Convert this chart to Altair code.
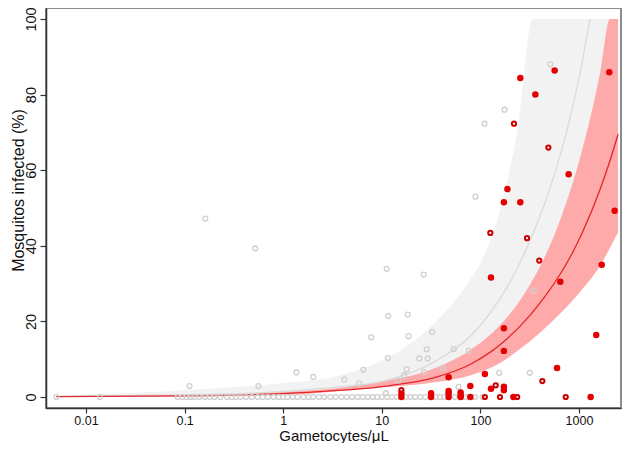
import altair as alt
import pandas as pd

# ---------------- data ----------------
# grey open circles lying on 0 %
gray_zero_x = [0.005, 0.0138, 0.085, 0.095, 0.105, 0.115, 0.125, 0.14, 0.16, 0.18, 0.2, 0.23,
               0.27, 0.3, 0.33, 0.37, 0.42, 0.48, 0.55, 0.62, 0.7, 0.8, 0.9, 1.0, 1.1, 1.25,
               1.4, 1.6, 1.8, 2.0, 2.3, 2.6, 3.0, 3.4, 3.9, 4.4, 5.0, 5.7, 6.4, 7.2, 8.1, 9.0,
               10.0, 11.3, 12.7, 14.2, 17.5, 19.5, 21.8, 24.5, 27.5, 35, 39, 43, 55, 70, 88, 105]
# other grey open circles
gray_x = [0.162, 0.52, 0.112, 0.56, 1.36, 2.02, 4.17, 6.5, 7.8, 5.9, 11.2, 26.6, 11.6, 18.3,
          18.7, 32.4, 11.5, 28.5, 24, 29.2, 53.7, 76.5, 41.4, 17.9, 26.8, 14.7, 16.8, 60, 11,
          155, 317, 347, 89, 110, 176, 512]
gray_y = [47.2, 39.3, 2.9, 2.9, 6.5, 5.3, 4.6, 7.2, 15.8, 3.6, 33.9, 32.4, 21.4, 21.8,
          16.1, 17.2, 10.3, 12.6, 10.2, 10.2, 12.7, 12.2, 7.7, 7.3, 6.6, 4.4, 5.7, 2.7, 1.0,
          6.4, 6.4, 28.2, 53, 72.3, 76, 88]
# red open circles
red_open_x = [219, 489, 126, 297, 395, 143, 425, 15.8, 111, 158, 236, 733]
red_open_y = [72.3, 66, 43.4, 42, 36.1, 3.1, 4.2, 1.8, 0, 0, 0, 0]
# red filled circles
red_fill_x = [254, 566, 361, 2028, 785, 188, 173, 254, 2300, 1700, 128, 646, 173, 1495, 173,
              599, 111, 47.6, 79, 128, 173, 173, 15.8, 15.8, 31.6, 31.6, 47.6, 47.6, 47.6,
              63, 63, 63, 79, 216, 1312]
red_fill_y = [84.4, 86.4, 80, 85.9, 58.9, 55, 51.5, 51.5, 49.3, 35, 31.6, 30.5, 18.2, 16.4, 12.2,
              7.7, 6.1, 5.2, 2.9, 2.2, 2.7, 1.8, 0.9, 0, 1.0, 0, 1.6, 0.9, 0,
              1.2, 0.4, 0, 0, 0, 0]

# fitted curves and confidence bands
red_line_x = [0.005, 0.1, 1, 3, 9.6, 36.3, 78.4, 125, 173.5, 318, 452, 641, 849, 1098, 1634, 2014, 2489]
red_line_y = [0.1, 0.3, 0.9, 1.6, 2.7, 5.3, 8.6, 11.8, 14.7, 21.6, 26.6, 32.4, 37.9, 43.9, 54.9, 61.7, 69.5]

red_band_x = [0.005, 0.1, 1, 7.6, 36.3, 78.4, 158, 252, 402, 641, 1023, 1634, 2061, 2489]
red_band_lo = [0.05, 0.15, 0.5, 2.3, 4.0, 5.7, 9.0, 12.7, 17.0, 22.0, 27.8, 34.7, 39.5, 43.5]
red_band_hi = [0.15, 0.5, 1.3, 3.6, 7.9, 12.4, 19.0, 25.5, 34.5, 46.7, 63.2, 85.7, 100, 100]

gray_line_x = [0.005, 0.1, 0.46, 1, 3, 9.6, 36.3, 78.4, 125, 186, 270, 452, 585, 755, 1000, 1291]
gray_line_y = [0.15, 0.55, 1.0, 1.5, 2.5, 4.0, 9.7, 16.0, 22.1, 29.0, 37.1, 51.4, 60.3, 70.6, 84.4, 100]

gray_band_x = [0.005, 0.1, 1, 3.2, 15.3, 33, 73, 106, 141, 182, 238, 341, 1000, 2489]
gray_band_lo = [0.1, 0.3, 0.9, 1.65, 3.3, 5.1, 8.3, 10.6, 12.7, 15.1, 18.5, 22.5, 42, 69]
gray_band_hi = [0.3, 1.8, 3.7, 5.3, 12.3, 19.1, 29.8, 36.8, 44.9, 55.8, 70.8, 100, 100, 100]

x_ticks = [0.01, 0.1, 1, 10, 100, 1000]
y_ticks = [0, 20, 40, 60, 80, 100]

# ---------------- tables ----------------
df_gray_zero = pd.DataFrame({"x": gray_zero_x, "y": [0] * len(gray_zero_x)})
df_gray = pd.concat([pd.DataFrame({"x": gray_x, "y": gray_y}), df_gray_zero])
df_red_open = pd.DataFrame({"x": red_open_x, "y": red_open_y})
df_red_fill = pd.DataFrame({"x": red_fill_x, "y": red_fill_y})
df_red_line = pd.DataFrame({"x": red_line_x, "y": red_line_y})
df_red_band = pd.DataFrame({"x": red_band_x, "lo": red_band_lo, "hi": red_band_hi})
df_gray_line = pd.DataFrame({"x": gray_line_x, "y": gray_line_y})
df_gray_band = pd.DataFrame({"x": gray_band_x, "lo": gray_band_lo, "hi": gray_band_hi})

FONT = "Liberation Sans"
xs = alt.Scale(type="log", domain=[0.003926, 2666], nice=False)
ys = alt.Scale(domain=[-2.91, 102.91], nice=False, zero=False)

x_axis = alt.Axis(values=x_ticks, labelExpr="format(datum.value, '~g')", title="Gametocytes/μL",
                  grid=False, tickSize=5, tickColor="#333333", tickWidth=1.2,
                  domainColor="#333333", domainWidth=1.5,
                  labelFontSize=12.5, labelFont=FONT, labelColor="#111111", labelPadding=1,
                  titleFont=FONT, titleFontSize=15, titleFontWeight="normal", titleColor="#111111",
                  titleBaseline="alphabetic", titleY=32)
y_axis = alt.Axis(values=y_ticks, title="Mosquitos infected (%)", grid=False, tickSize=6,
                  tickColor="#333333", tickWidth=1.2, domainColor="#333333", domainWidth=1.5,
                  labelAngle=270, labelAlign="center", labelBaseline="alphabetic", labelPadding=5,
                  labelFontSize=14.5, labelFont=FONT, labelColor="#111111",
                  titleFont=FONT, titleFontSize=16, titleFontWeight="normal", titleColor="#111111",
                  titleAngle=270, titleAlign="center", titleBaseline="alphabetic",
                  titleX=-23, titleY=182)


def X():
    return alt.X("x:Q", scale=xs, axis=x_axis)


def Y(field):
    return alt.Y(field, scale=ys, axis=y_axis)


gray_band = alt.Chart(df_gray_band).mark_area(color="#F2F2F2", interpolate="monotone").encode(
    x=X(), y=Y("lo:Q"), y2="hi:Q")
red_band = alt.Chart(df_red_band).mark_area(color="#FFAAAA", interpolate="monotone").encode(
    x=X(), y=Y("lo:Q"), y2="hi:Q")
gray_line = alt.Chart(df_gray_line).mark_line(color="#DADADA", strokeWidth=1.3, interpolate="monotone").encode(
    x=X(), y=Y("y:Q"))
red_line = alt.Chart(df_red_line).mark_line(color="#E3262A", strokeWidth=1.3, interpolate="monotone").encode(
    x=X(), y=Y("y:Q"))
gray_pts = alt.Chart(df_gray).mark_point(shape="circle", filled=False, color="#D0D0D0",
                                         strokeWidth=1.3, size=24, opacity=1).encode(
    x=X(), y=Y("y:Q"))
red_open = alt.Chart(df_red_open).mark_point(shape="circle", filled=False, color="#CC0000",
                                             strokeWidth=2, size=18, opacity=1).encode(
    x=X(), y=Y("y:Q"))
red_fill = alt.Chart(df_red_fill).mark_circle(color="#E40000", size=42, opacity=1).encode(
    x=X(), y=Y("y:Q"))

chart = alt.layer(gray_band, red_band, gray_line, red_line, gray_pts, red_open, red_fill).properties(
    width=575, height=400,
    autosize=alt.AutoSizeParams(type="none"),
    padding={"left": 38, "top": 0, "right": 1, "bottom": 35},
    background="white",
).configure_view(stroke="#8C8C8C", strokeWidth=2)

chart.save("out.html", embed_options={"renderer": "svg", "actions": False})
